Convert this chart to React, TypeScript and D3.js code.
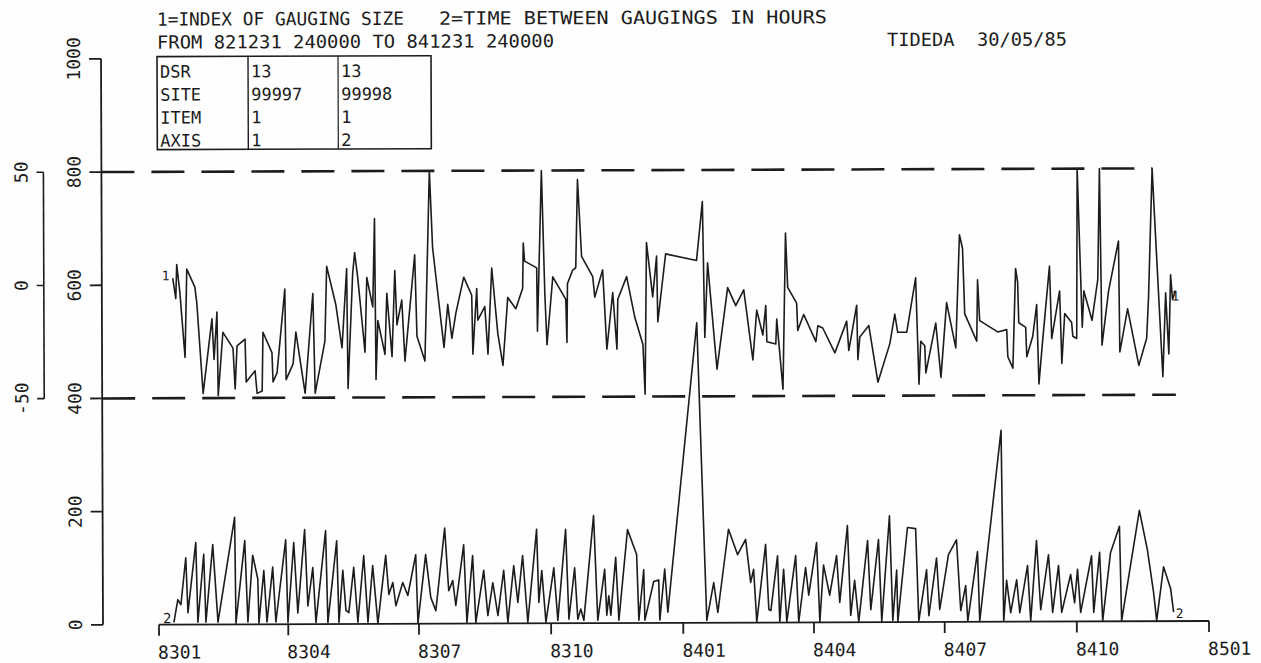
import React from 'react';
import * as d3 from 'd3';

// Period: FROM 821231 240000 TO 841231 240000
const START = Date.UTC(1983, 0, 1);
const END = Date.UTC(1985, 0, 1);
const DAY = 86400000;

const headerLine1a = '1=INDEX OF GAUGING SIZE';
const headerLine1b = '2=TIME BETWEEN GAUGINGS IN HOURS';
const headerLine2 = 'FROM 821231 240000 TO 841231 240000';
const headerRight = 'TIDEDA  30/05/85';

const primaryTicks = [0, 200, 400, 600, 800, 1000];
const secondaryTicks = [-50, 0, 50];

const tableRows = [
  ['DSR', '13', '13'],
  ['SITE', '99997', '99998'],
  ['ITEM', '1', '1'],
  ['AXIS', '1', '2'],
];

// dashed range lines (primary units) and the day they run to
const refLineValues = [800, 400];
const refLineEndDays = [692.5, 708.5];

// series 1: index of gauging size (axis -50..50), [day since start, value]
const series1: [number, number][] = [
  [10.4,3],[12.5,-6],[13.2,9],[15.3,-3],[18.8,-32],[20.2,7],[25.8,-1],[27.1,-8],[31.3,-48],[37.6,-15],
  [39.0,-33],[41.1,-12],[41.8,-49],[45.2,-21],[52.2,-28],[53.6,-46],[55.0,-27],[60.6,-24],[61.3,-43],[67.5,-38],
  [68.9,-48],[72.4,-47],[73.1,-21],[79.3,-30],[80.0,-43],[82.8,-39],[88.4,-2],[89.1,-42],[94.0,-35],[96.0,-21],
  [102.3,-48],[107.9,-4],[109.3,-48],[116.2,-25],[117.6,8],[123.9,-9],[128.1,-28],[131.5,7],[132.2,-46],[135.7,5],
  [137.1,14],[139.2,3],[144.1,-30],[145.5,3],[149.6,-10],[151.0,29],[151.7,-42],[153.1,-16],[158.0,-31],[159.4,-4],
  [162.9,-32],[165.0,6],[166.4,-18],[169.8,-7],[171.9,-34],[178.9,13],[180.3,-23],[185.8,-34],[189.3,50],[191.4,16],
  [192.8,8],[199.1,-28],[201.8,-9],[204.6,-24],[207.4,-13],[213.0,3],[218.5,-5],[219.2,-31],[222.0,-2],[222.7,-16],
  [227.6,-10],[229.7,-31],[232.5,7],[236.6,-22],[240.1,-36],[243.6,-6],[249.2,-11],[254.0,-2],[254.5,18],[255.4,10],
  [263.8,7],[264.2,-21],[267.3,50],[269.4,-4],[270.8,-27],[275.0,3],[284.0,-7],[284.7,-26],[285.2,0],[288.9,6],
  [291.0,7],[292.4,46],[295.1,12],[302.8,3],[304.2,-6],[309.7,6],[312.5,-29],[316.7,-4],[319.5,-29],[320.2,-7],
  [326.4,3],[332.0,-15],[337.6,-27],[339.0,-49],[340.3,18],[344.5,-6],[347.3,12],[348.0,-17],[353.6,13],[375.1,10],
  [379.3,36],[380.7,-24],[382.8,9],[389.1,-38],[396.7,-2],[402.3,-10],[407.9,-3],[414.1,-34],[416.9,-12],[421.1,-23],
  [423.2,-10],[423.9,-26],[430.1,-27],[430.8,-16],[435.0,-47],[437.1,22],[438.5,-2],[444.7,-9],[445.4,-21],[449.6,-14],
  [458.0,-26],[459.4,-19],[462.8,-20],[471.2,-31],[479.5,-17],[480.9,-30],[486.5,-10],[487.2,-34],[488.6,-24],[494.9,-19],
  [501.1,-44],[509.5,-27],[513.0,-14],[515.0,-22],[521.3,-22],[527.6,2],[529.7,-45],[531.0,-26],[533.8,-28],[534.5,-40],
  [541.5,-18],[545.0,-42],[549.1,-9],[555.4,-29],[558.2,21],[560.3,15],[561.7,-14],[570.0,-26],[570.7,1],[572.1,-17],
  [584.6,-22],[590.9,-21],[591.6,-33],[595.1,-38],[597.2,6],[598.6,0],[599.3,-18],[604.1,-20],[604.8,-33],[609.0,-24],
  [611.8,-10],[613.2,-45],[616.0,-25],[620.8,7],[622.2,-25],[627.8,-4],[629.2,-36],[631.3,-14],[636.1,-18],[636.9,-24],
  [639.6,-25],[640.3,50],[643.5,-20],[644.7,-4],[650.3,-17],[654.4,1],[655.8,50],[657.2,-28],[661.9,-4],[668.9,18],
  [669.6,-31],[675.1,-12],[682.8,-37],[688.3,-25],[689.7,-7],[692.5,50],[693.9,31],[699.5,-42],[701.6,-5],[703.7,-32],
  [705.1,3],[706.4,-8],[708.5,-4],
];

// series 2: time between gaugings in hours (axis 0..1000), [day since start, value]
const series2: [number, number][] = [
  [10.4,4],[13.2,44],[15.3,35],[18.8,118],[20.2,21],[25.8,145],[27.1,4],[31.3,124],[32.7,4],[37.6,141],
  [41.1,4],[52.9,189],[53.6,2],[59.9,148],[61.9,4],[65.4,122],[68.9,80],[69.6,2],[73.1,95],[75.2,4],
  [79.3,101],[81.4,4],[88.4,149],[89.8,3],[94.0,144],[96.7,20],[101.6,167],[103.7,32],[107.2,100],[109.3,3],
  [116.2,165],[117.6,3],[123.9,147],[125.3,3],[128.1,95],[130.2,24],[132.2,20],[135.7,100],[138.5,3],[142.7,121],
  [145.5,3],[148.9,103],[152.4,1],[158.0,121],[160.1,52],[162.9,73],[165.0,32],[169.8,73],[173.3,50],[178.9,122],
  [180.3,1],[185.8,122],[189.3,46],[192.8,23],[199.1,169],[201.8,58],[204.6,76],[206.7,32],[212.3,139],[214.4,2],
  [218.5,120],[220.6,2],[226.2,94],[229.0,14],[232.5,72],[236.0,14],[240.1,94],[242.9,2],[247.1,102],[249.9,37],
  [253.3,120],[256.8,2],[263.1,166],[264.5,37],[266.6,93],[269.4,2],[275.0,98],[277.7,5],[283.3,166],[285.4,7],
  [289.5,98],[291.6,7],[293.7,25],[295.8,5],[302.8,190],[305.5,5],[310.4,95],[311.8,14],[313.2,48],[314.6,14],
  [318.1,116],[320.2,5],[326.4,165],[332.7,121],[334.1,5],[337.6,94],[338.3,5],[344.5,73],[348.0,76],[348.7,5],
  [352.2,95],[354.3,19],[375.1,530],[381.4,4],[386.3,71],[389.1,18],[396.7,165],[403.0,120],[408.6,147],[412.0,71],
  [414.1,94],[416.2,1],[422.5,138],[424.6,23],[426.0,21],[430.8,118],[432.2,1],[435.0,94],[437.1,1],[443.4,118],
  [445.4,1],[450.3,97],[452.4,48],[458.0,141],[460.1,1],[462.8,101],[467.0,48],[471.9,118],[474.0,35],[479.5,171],
  [481.6,12],[484.4,74],[487.2,1],[493.5,144],[495.6,22],[501.1,146],[503.2,1],[508.8,188],[510.9,3],[513.7,92],
  [514.4,1],[521.3,167],[527.0,165],[529.0,2],[534.5,92],[536.0,11],[541.5,113],[543.6,22],[549.8,119],[555.4,145],
  [558.2,20],[561.7,64],[563.1,1],[570.0,124],[571.4,1],[586.7,338],[588.1,1],[590.2,73],[593.0,16],[597.2,74],
  [599.3,16],[604.8,99],[606.9,1],[611.1,143],[613.9,21],[619.4,118],[622.2,16],[626.4,99],[628.5,16],[634.8,83],
  [637.5,33],[639.6,92],[641.7,16],[649.4,116],[650.8,16],[655.0,122],[657.0,1],[662.6,121],[668.9,168],[670.2,1],
  [682.8,196],[688.3,126],[692.5,51],[694.6,1],[699.5,96],[704.4,57],[706.4,16],
];

const INK = '#1c1c1c';
const FONT = 'DejaVu Sans Mono';

export default function App() {
  const W = 1261, H = 663;
  const toDate = (d: number) => new Date(START + d * DAY);
  const x = d3.scaleUtc().domain([new Date(START), new Date(END)]).range([158, 1208]);
  const y = d3.scaleLinear().domain([0, 1000]).range([623, 57]);
  const y2 = d3.scaleLinear().domain([-50, 50]).range([y(400), y(800)]);
  const axisX = 102;
  const secAxisX = 44;
  const xTicks = d3.utcMonth.every(3)!.range(new Date(START), new Date(END + DAY));
  const fmt = d3.utcFormat('%y%m');

  const line1 = d3.line<[number, number]>()
    .x(d => x(toDate(d[0])))
    .y(d => y2(Math.max(-50, Math.min(50, d[1]))));
  const line2 = d3.line<[number, number]>()
    .x(d => x(toDate(d[0])))
    .y(d => y(d[1]));

  const s1First = series1[0], s1Last = series1[series1.length - 1];
  const s2First = series2[0], s2Last = series2[series2.length - 1];

  const tX = [158, 249, 339, 432];
  const tY0 = 55, tY1 = 148;
  const pre = { whiteSpace: 'pre' as const };

  return (
    <svg width={W} height={H} style={{ position: 'absolute', left: 0, top: 0, background: '#fff' }}
      fontFamily={FONT}>
      <rect x={0} y={0} width={W} height={H} fill="#fefefe" />
      <g transform="rotate(-0.2 630 340)" fill={INK}>
        {/* header */}
        <text x={158} y={24} fontSize={18} textLength={247} lengthAdjust="spacingAndGlyphs" fill={INK}>{headerLine1a}</text>
        <text x={440} y={24} fontSize={18} textLength={388} lengthAdjust="spacingAndGlyphs" fill={INK}>{headerLine1b}</text>
        <text x={158} y={47} fontSize={18} textLength={397} lengthAdjust="spacingAndGlyphs" fill={INK}>{headerLine2}</text>
        <text x={888} y={47} fontSize={18} textLength={180} lengthAdjust="spacingAndGlyphs" fill={INK}
          xmlSpace="preserve" style={pre}>{headerRight}</text>

        {/* table */}
        <rect x={tX[0]} y={tY0} width={tX[3] - tX[0]} height={tY1 - tY0} fill="none" stroke={INK} strokeWidth={1.6} />
        <line x1={tX[1]} x2={tX[1]} y1={tY0} y2={tY1} stroke={INK} strokeWidth={1.4} />
        <line x1={tX[2]} x2={tX[2]} y1={tY0} y2={tY1} stroke={INK} strokeWidth={1.2} />
        {tableRows.map((row, i) => row.map((cell, j) => (
          <text key={`${i}-${j}`} x={tX[j] + 3} y={76 + i * 23} fontSize={17} fill={INK}>{cell}</text>
        )))}

        {/* primary y axis */}
        <line x1={axisX} x2={axisX} y1={y(1000)} y2={y(0)} stroke={INK} strokeWidth={1.8} />
        {primaryTicks.map(t => (
          <g key={t}>
            <line x1={axisX - 12} x2={axisX} y1={y(t)} y2={y(t)} stroke={INK} strokeWidth={1.8} />
            <text transform={`translate(81,${y(t)}) rotate(-90)`} textAnchor="middle" fontSize={18} fill={INK}>{t}</text>
          </g>
        ))}

        {/* secondary y axis */}
        <line x1={secAxisX} x2={secAxisX} y1={y2(50)} y2={y2(-50)} stroke={INK} strokeWidth={1.6} />
        {secondaryTicks.map(t => (
          <g key={t}>
            <line x1={secAxisX - 7} x2={secAxisX} y1={y2(t)} y2={y2(t)} stroke={INK} strokeWidth={1.6} />
            <text transform={`translate(28,${y2(t)}) rotate(-90)`} textAnchor="middle" fontSize={18} fill={INK}>{t}</text>
          </g>
        ))}

        {/* x axis */}
        <line x1={x(new Date(START))} x2={x(new Date(END))} y1={y(0)} y2={y(0)} stroke={INK} strokeWidth={1.8} />
        {xTicks.map(t => (
          <g key={t.getTime()}>
            <line x1={x(t)} x2={x(t)} y1={y(0)} y2={y(0) + 11} stroke={INK} strokeWidth={1.8} />
            <text x={x(t) - 1} y={657} fontSize={18} fill={INK}>{fmt(t)}</text>
          </g>
        ))}

        {/* dashed range lines */}
        {refLineValues.map((v, i) => (
          <line key={v} x1={axisX} x2={x(toDate(refLineEndDays[i]))} y1={y(v)} y2={y(v)}
            stroke={INK} strokeWidth={2.6} strokeDasharray="33 17" />
        ))}

        {/* series */}
        <path d={line1(series1) || ''} fill="none" stroke={INK} strokeWidth={1.6} strokeLinejoin="round" />
        <path d={line2(series2) || ''} fill="none" stroke={INK} strokeWidth={1.6} strokeLinejoin="round" />

        {/* series labels */}
        <text x={x(toDate(s1First[0])) - 11} y={y2(s1First[1]) + 2} fontSize={13} fill={INK}>1</text>
        <text x={x(toDate(s1Last[0])) - 4} y={y2(s1Last[1]) + 10} fontSize={13} fill={INK}>1</text>
        <text x={x(toDate(s2First[0])) - 11} y={y(s2First[1]) + 1} fontSize={14} fill={INK}>2</text>
        <text x={x(toDate(s2Last[0])) + 2} y={y(s2Last[1]) + 6} fontSize={13} fill={INK}>2</text>
      </g>
    </svg>
  );
}
